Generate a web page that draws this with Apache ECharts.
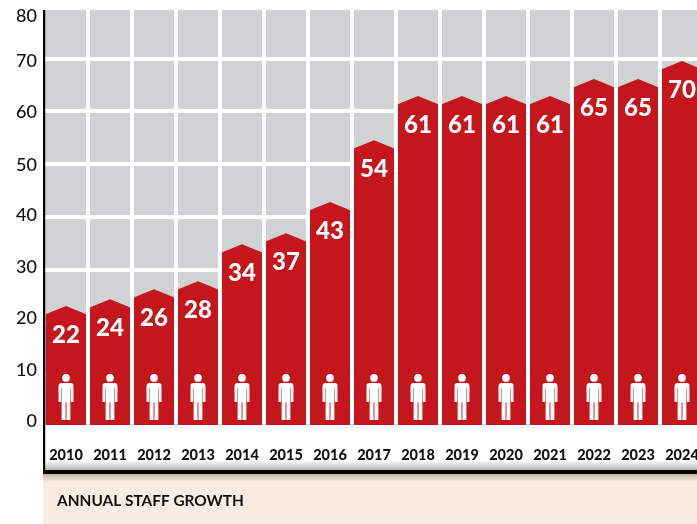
<!DOCTYPE html>
<html>
<head>
<meta charset="utf-8">
<style>html,body{margin:0;padding:0;background:#fff;overflow:hidden}#c{width:697px;height:524px}</style>
<script src="https://cdn.jsdelivr.net/npm/echarts@6/dist/echarts.min.js"></script>
</head>
<body>
<div id="c"></div>
<script>
const years = ['2010','2011','2012','2013','2014','2015','2016','2017','2018','2019','2020','2021','2022','2023','2024'];
const staffCounts = [22,24,26,28,34,37,43,54,61,61,61,61,65,65,70];
const drawnTops = [23.1,24.4,26.3,27.8,34.8,36.9,42.8,54.5,62.9,62.9,62.9,62.9,66.1,66.1,69.5];
const chartTitle = 'ANNUAL STAFF GROWTH';

const FONT = 'Lato, "Open Sans", sans-serif';
const RED = '#c4161c', GREY = '#d1d2d4';
const personPath = 'M7.5 0A3.8 3.8 0 1 0 7.5 7.6A3.8 3.8 0 1 0 7.5 0ZM3 8.8H12Q15 8.8 15 12V27.5H12.4V14H11.9V45H7.95V28H7.05V45H3.1V14H2.6V27.5H0V12Q0 8.8 3 8.8Z';

// tick labels sit a little off their grid lines in the original
const labelShift = {0:-7,10:-5,20:-4,30:-2.3,40:-1.8,50:1,60:.8,70:3.2,80:10.4};
const rich = {};
Object.keys(labelShift).forEach(k => {
  const s = labelShift[k];
  rich['t' + k] = {
    fontFamily: FONT, fontSize: 18, fontWeight: 500, color: '#111',
    padding: s >= 0 ? [2 * s, 0, 0, 0] : [0, 0, -2 * s, 0]
  };
});

function renderBar(params, api) {
  const i = api.value(0);
  const peak = api.coord([i, api.value(1)]);
  const zero = api.coord([i, 0]);
  const w = 40.6, shoulder = 8.3;
  const base = zero[1] - 3;
  const cx = peak[0], l = cx - w / 2, r = cx + w / 2;
  return {
    type: 'group',
    children: [
      { type: 'polygon',
        shape: { points: [[l, base], [l, peak[1] + shoulder], [cx, peak[1]], [r, peak[1] + shoulder], [r, base]] },
        style: { fill: RED } },
      { type: 'path',
        shape: { pathData: personPath, x: cx - 7.5, y: base - 51, width: 15, height: 46, layout: 'cover' },
        style: { fill: '#fff' } },
      { type: 'text',
        style: { text: String(api.value(2)), x: cx, y: peak[1] + 29, align: 'center', verticalAlign: 'middle',
                 font: '900 24px ' + FONT, fill: '#fff' } }
    ]
  };
}

const chart = echarts.init(document.getElementById('c'), null, { renderer: 'canvas', width: 697, height: 524 });
chart.setOption({
  animation: false,
  backgroundColor: '#fff',
  grid: { left: 44, top: 5.6, width: 660, height: 422.4, show: true, backgroundColor: GREY, borderWidth: 0, containLabel: false, outerBoundsMode: 'none' },
  xAxis: {
    type: 'category', data: years, boundaryGap: true, z: 6,
    axisLine: { show: false }, axisTick: { show: false },
    splitLine: { show: true, showMinLine: false, interval: 0, lineStyle: { color: '#fff', width: 4 } },
    axisLabel: { show: true, interval: 0, margin: 20, fontFamily: FONT, fontSize: 14.5, fontWeight: 900, color: '#111', hideOverlap: false }
  },
  yAxis: {
    type: 'value', min: 0, max: 80, interval: 10,
    axisLine: { show: false }, axisTick: { show: false },
    splitLine: { show: true, lineStyle: { color: '#fff', width: 4 } },
    axisLabel: { margin: 7, formatter: v => '{t' + v + '|' + v + '}', rich: rich }
  },
  series: [{
    type: 'custom', clip: false, z: 4,
    data: years.map((y, i) => [i, drawnTops[i], staffCounts[i]]),
    encode: { x: 0, y: 1 },
    renderItem: renderBar
  }],
  graphic: [
    { type: 'rect', z: 1, silent: true, shape: { x: 44, y: 0, width: 653, height: 10 }, style: { fill: '#fff' } },
    { type: 'rect', z: 1, silent: true, shape: { x: 44, y: 425, width: 653, height: 45 }, style: { fill: '#fff' } },
    { type: 'rect', z: 2, silent: true, shape: { x: 45, y: 460, width: 652, height: 10 },
      style: { fill: new echarts.graphic.LinearGradient(0, 0, 0, 1, [{ offset: 0, color: 'rgba(170,170,170,0)' }, { offset: 1, color: 'rgba(150,150,150,.75)' }]) } },
    { type: 'rect', z: 2, silent: true, shape: { x: 43, y: 474, width: 654, height: 50 }, style: { fill: '#f9ede3' } },
    { type: 'rect', z: 3, silent: true, shape: { x: 43, y: 474, width: 654, height: 8 },
      style: { fill: new echarts.graphic.LinearGradient(0, 0, 0, 1, [{ offset: 0, color: 'rgba(150,130,110,.55)' }, { offset: 1, color: 'rgba(150,130,110,0)' }]) } },
    { type: 'rect', z: 7, silent: true, shape: { x: 43, y: 10, width: 2.2, height: 464 }, style: { fill: '#000' } },
    { type: 'rect', z: 7, silent: true, shape: { x: 43, y: 470, width: 654, height: 4 }, style: { fill: '#000' } },
    { type: 'text', z: 7, silent: true, style: { text: chartTitle, x: 57, y: 501.5, verticalAlign: 'middle', font: '700 15.4px ' + FONT, fill: '#111' } }
  ]
});
</script>
</body>
</html>
